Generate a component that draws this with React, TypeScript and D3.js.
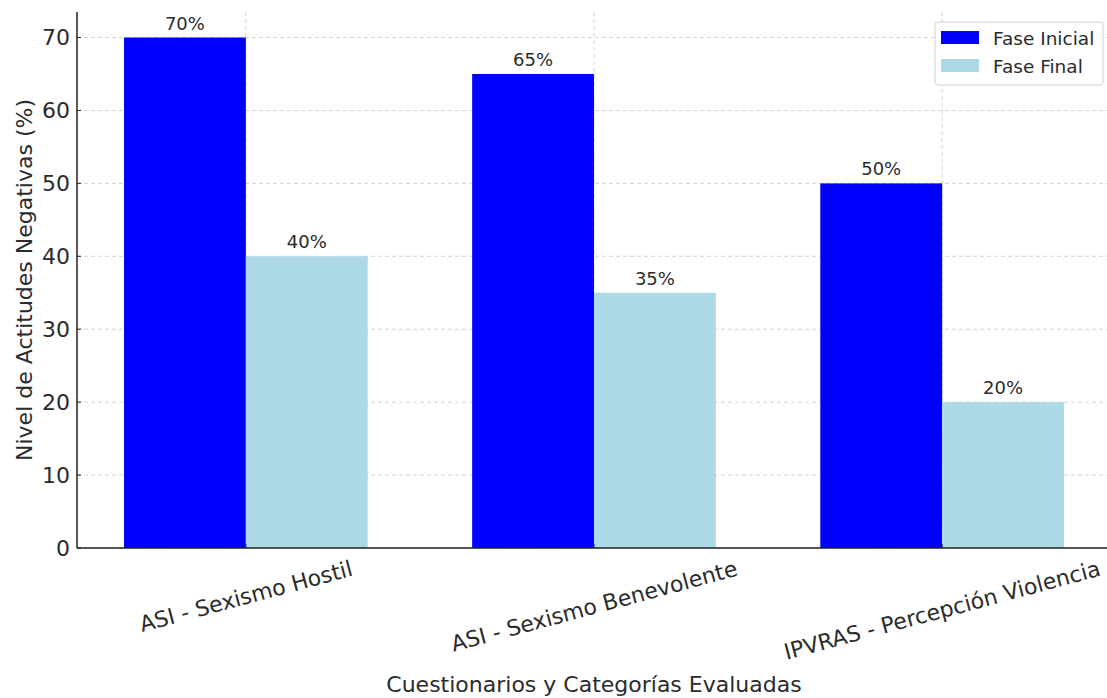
import React, { useEffect, useRef } from "react";
import * as d3 from "d3";

const categories = ["ASI - Sexismo Hostil", "ASI - Sexismo Benevolente", "IPVRAS - Percepción Violencia"];
const faseInicial = [70, 65, 50];
const faseFinal = [40, 35, 20];
const seriesNames = ["Fase Inicial", "Fase Final"];
const seriesColors = ["#0000ff", "#add8e6"];
const yTicks = [0, 10, 20, 30, 40, 50, 60, 70];

const W = 1107;
const H = 698;
const FONT = "DejaVu Sans, sans-serif";
const TXT = "#2b2b2b";

export default function App() {
  const ref = useRef<SVGSVGElement>(null);
  useEffect(() => {
    const svg = d3.select(ref.current);
    svg.selectAll("*").remove();
    const left = 77, top = 12, bottom = 548;
    const barW = 0.35;
    const x = d3.scaleLinear().domain([-0.485, 2.485]).range([left, 1111]);
    const y = d3.scaleLinear().domain([0, 73.5]).range([bottom, top]);

    const g = svg.append("g");
    // grid
    g.selectAll(".hg").data(yTicks).enter().append("line")
      .attr("x1", left).attr("x2", 1111)
      .attr("y1", (d) => y(d)).attr("y2", (d) => y(d))
      .attr("stroke", "#b0b0b0").attr("stroke-width", 0.8).attr("stroke-dasharray", "4,3").attr("opacity", 0.7);
    g.selectAll(".vg").data(categories).enter().append("line")
      .attr("x1", (_, i) => x(i)).attr("x2", (_, i) => x(i))
      .attr("y1", top).attr("y2", bottom)
      .attr("stroke", "#b0b0b0").attr("stroke-width", 0.8).attr("stroke-dasharray", "4,3").attr("opacity", 0.7);

    const series = [faseInicial, faseFinal];
    series.forEach((vals, s) => {
      const off = s === 0 ? -barW : 0;
      g.selectAll(".b" + s).data(vals).enter().append("rect")
        .attr("x", (_, i) => x(i + off))
        .attr("width", x(barW) - x(0))
        .attr("y", (d) => y(d))
        .attr("height", (d) => bottom - y(d))
        .attr("fill", seriesColors[s]);
      g.selectAll(".l" + s).data(vals).enter().append("text")
        .attr("x", (_, i) => x(i + off + barW / 2))
        .attr("y", (d) => y(d) - 8)
        .attr("text-anchor", "middle")
        .attr("font-family", FONT).attr("font-size", 18).attr("fill", TXT)
        .text((d) => `${d}%`);
    });

    // spines
    g.append("line").attr("x1", left).attr("x2", left).attr("y1", top).attr("y2", bottom)
      .attr("stroke", "#222").attr("stroke-width", 1.5);
    g.append("line").attr("x1", left).attr("x2", 1111).attr("y1", bottom).attr("y2", bottom)
      .attr("stroke", "#222").attr("stroke-width", 1.5);

    // y ticks
    yTicks.forEach((t) => {
      g.append("line").attr("x1", left).attr("x2", left + 4).attr("y1", y(t)).attr("y2", y(t))
        .attr("stroke", "#222").attr("stroke-width", 1);
      g.append("text").attr("x", left - 7).attr("y", y(t)).attr("dy", "0.36em")
        .attr("text-anchor", "end").attr("font-family", FONT).attr("font-size", 22).attr("fill", TXT)
        .text(t);
    });
    // x ticks
    const ang = 15 * Math.PI / 180;
    categories.forEach((c, i) => {
      g.append("line").attr("x1", x(i)).attr("x2", x(i)).attr("y1", bottom).attr("y2", bottom - 4)
        .attr("stroke", "#222").attr("stroke-width", 1);
      const t = g.append("text")
        .attr("text-anchor", "middle").attr("dy", "0.36em")
        .attr("font-family", FONT).attr("font-size", 22).attr("fill", TXT)
        .text(c);
      const w = (t.node() as SVGTextElement).getComputedTextLength();
      const hh = (w * Math.sin(ang) + 22 * Math.cos(ang)) / 2;
      t.attr("transform", `translate(${x(i)},${bottom + 9 + hh}) rotate(-15)`);
    });

    // axis labels
    g.append("text").attr("x", x(1)).attr("y", 692)
      .attr("text-anchor", "middle").attr("font-family", FONT).attr("font-size", 22).attr("fill", TXT)
      .text("Cuestionarios y Categorías Evaluadas");
    g.append("text").attr("transform", `translate(32,${(top + bottom) / 2}) rotate(-90)`)
      .attr("text-anchor", "middle").attr("font-family", FONT).attr("font-size", 22).attr("fill", TXT)
      .text("Nivel de Actitudes Negativas (%)");

    // legend
    const lg = g.append("g").attr("transform", "translate(935,22)");
    lg.append("rect").attr("width", 168).attr("height", 63).attr("rx", 3)
      .attr("fill", "#fff").attr("fill-opacity", 0.85).attr("stroke", "#d0d0d0");
    seriesNames.forEach((n, i) => {
      lg.append("rect").attr("x", 6).attr("y", 9 + i * 28).attr("width", 38).attr("height", 13)
        .attr("fill", seriesColors[i]);
      lg.append("text").attr("x", 58).attr("y", 16 + i * 28).attr("dy", "0.36em")
        .attr("font-family", FONT).attr("font-size", 18.5).attr("fill", TXT).text(n);
    });
  }, []);
  return (
    <svg ref={ref} width={W} height={H} style={{ position: "absolute", left: 0, top: 0, background: "#fff" }} />
  );
}
